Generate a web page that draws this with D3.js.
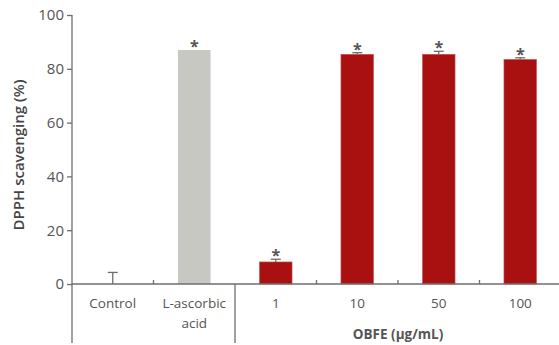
<!DOCTYPE html>
<html>
<head>
<meta charset="utf-8">
<script src="https://cdn.jsdelivr.net/npm/d3@7"></script>
<style>
  body { margin: 0; background: #fff; }
  text { font-family: "Open Sans", "DejaVu Sans", sans-serif; }
</style>
</head>
<body>
<svg id="chart" width="559" height="345"></svg>
<script>
// chart data
const categories = ["Control", "L-ascorbic acid", "1", "10", "50", "100"];
const values = [0, 87, 8.2, 85.4, 85.4, 83.5];
const errors = [4.3, 0, 1.0, 0.6, 1.1, 0.6];
const significant = [false, true, true, true, true, true];
const yTicks = [0, 20, 40, 60, 80, 100];

const svg = d3.select("#chart");
const mLeft = 72, mRight = 561, mTop = 15, base = 284;

const x = d3.scaleBand().domain(categories).range([mLeft, mRight]).paddingInner(0.6).paddingOuter(0.3);
const y = d3.scaleLinear().domain([0, 100]).range([base, mTop]);
const axisColor = "#6e6e6e";
const textColor = "#555";

// bars
svg.selectAll("rect.bar")
  .data(categories)
  .join("rect")
  .attr("class", "bar")
  .attr("x", d => x(d))
  .attr("width", x.bandwidth())
  .attr("y", (d, i) => y(values[i]))
  .attr("height", (d, i) => base - y(values[i]))
  .attr("fill", (d, i) => i === 1 ? "#c8c8c3" : "#a8110f")
  .attr("stroke", (d, i) => i === 1 ? "none" : "#c85a58")
  .attr("stroke-width", 0.6);

// error bars (upper only)
const eb = svg.append("g").attr("stroke", axisColor).attr("stroke-width", 1.3);
categories.forEach((c, i) => {
  if (!errors[i]) return;
  const cx = x(c) + x.bandwidth() / 2;
  const yt = y(values[i] + errors[i]);
  eb.append("line").attr("x1", cx).attr("x2", cx).attr("y1", y(values[i])).attr("y2", yt);
  eb.append("line").attr("x1", cx - 5).attr("x2", cx + 5).attr("y1", yt).attr("y2", yt);
});

// asterisks
svg.selectAll("text.star")
  .data(categories.filter((c, i) => significant[i]))
  .join("text")
  .attr("class", "star")
  .attr("x", d => x(d) + x.bandwidth() / 2)
  .attr("y", d => {
    const i = categories.indexOf(d);
    return y(values[i] + errors[i]) + 2;
  })
  .attr("text-anchor", "middle")
  .attr("font-size", 16)
  .attr("font-weight", "bold")
  .attr("fill", textColor)
  .text("*");

// y axis
const yAxis = svg.append("g").attr("transform", `translate(${mLeft},0)`)
  .call(d3.axisLeft(y).tickValues(yTicks).tickSize(5).tickPadding(3));
yAxis.select(".domain").remove();
yAxis.selectAll("line").attr("stroke", axisColor).attr("stroke-width", 1.3);
yAxis.selectAll("text").attr("font-size", 15).attr("fill", textColor)
  .attr("font-family", "'Open Sans', sans-serif");
svg.append("line").attr("x1", mLeft).attr("x2", mLeft).attr("y1", mTop).attr("y2", 343)
  .attr("stroke", axisColor).attr("stroke-width", 1.3);

// x axis line
svg.append("line").attr("x1", mLeft).attr("x2", mRight).attr("y1", base).attr("y2", base)
  .attr("stroke", axisColor).attr("stroke-width", 1.3);
const step = x.step();
const bounds = categories.slice(1).map(c => x(c) - x.paddingInner() * step / 2);
bounds.forEach((bx, i) => {
  svg.append("line").attr("x1", bx).attr("x2", bx)
    .attr("y1", base).attr("y2", i === 1 ? 343 : base - 4)
    .attr("stroke", axisColor).attr("stroke-width", 1.3);
});

// category labels
const labelLines = [["Control"], ["L-ascorbic", "acid"], ["1"], ["10"], ["50"], ["100"]];
categories.forEach((c, i) => {
  const t = svg.append("text")
    .attr("x", x(c) + x.bandwidth() / 2)
    .attr("y", 308)
    .attr("text-anchor", "middle")
    .attr("font-size", 13.5)
    .attr("fill", textColor);
  labelLines[i].forEach((l, j) => {
    t.append("tspan").attr("x", x(c) + x.bandwidth() / 2).attr("dy", j ? 20 : 0).text(l);
  });
});

// group label
svg.append("text")
  .attr("x", (bounds[1] + mRight) / 2)
  .attr("y", 339)
  .attr("text-anchor", "middle")
  .attr("font-size", 13.5)
  .attr("font-weight", "bold")
  .attr("fill", textColor)
  .text("OBFE (μg/mL)");

// y axis title
svg.append("text")
  .attr("transform", `translate(24,155) rotate(-90)`)
  .attr("text-anchor", "middle")
  .attr("font-size", 15)
  .attr("font-weight", 600)
  .attr("fill", "#444")
  .text("DPPH scavenging (%)");
</script>
</body>
</html>
